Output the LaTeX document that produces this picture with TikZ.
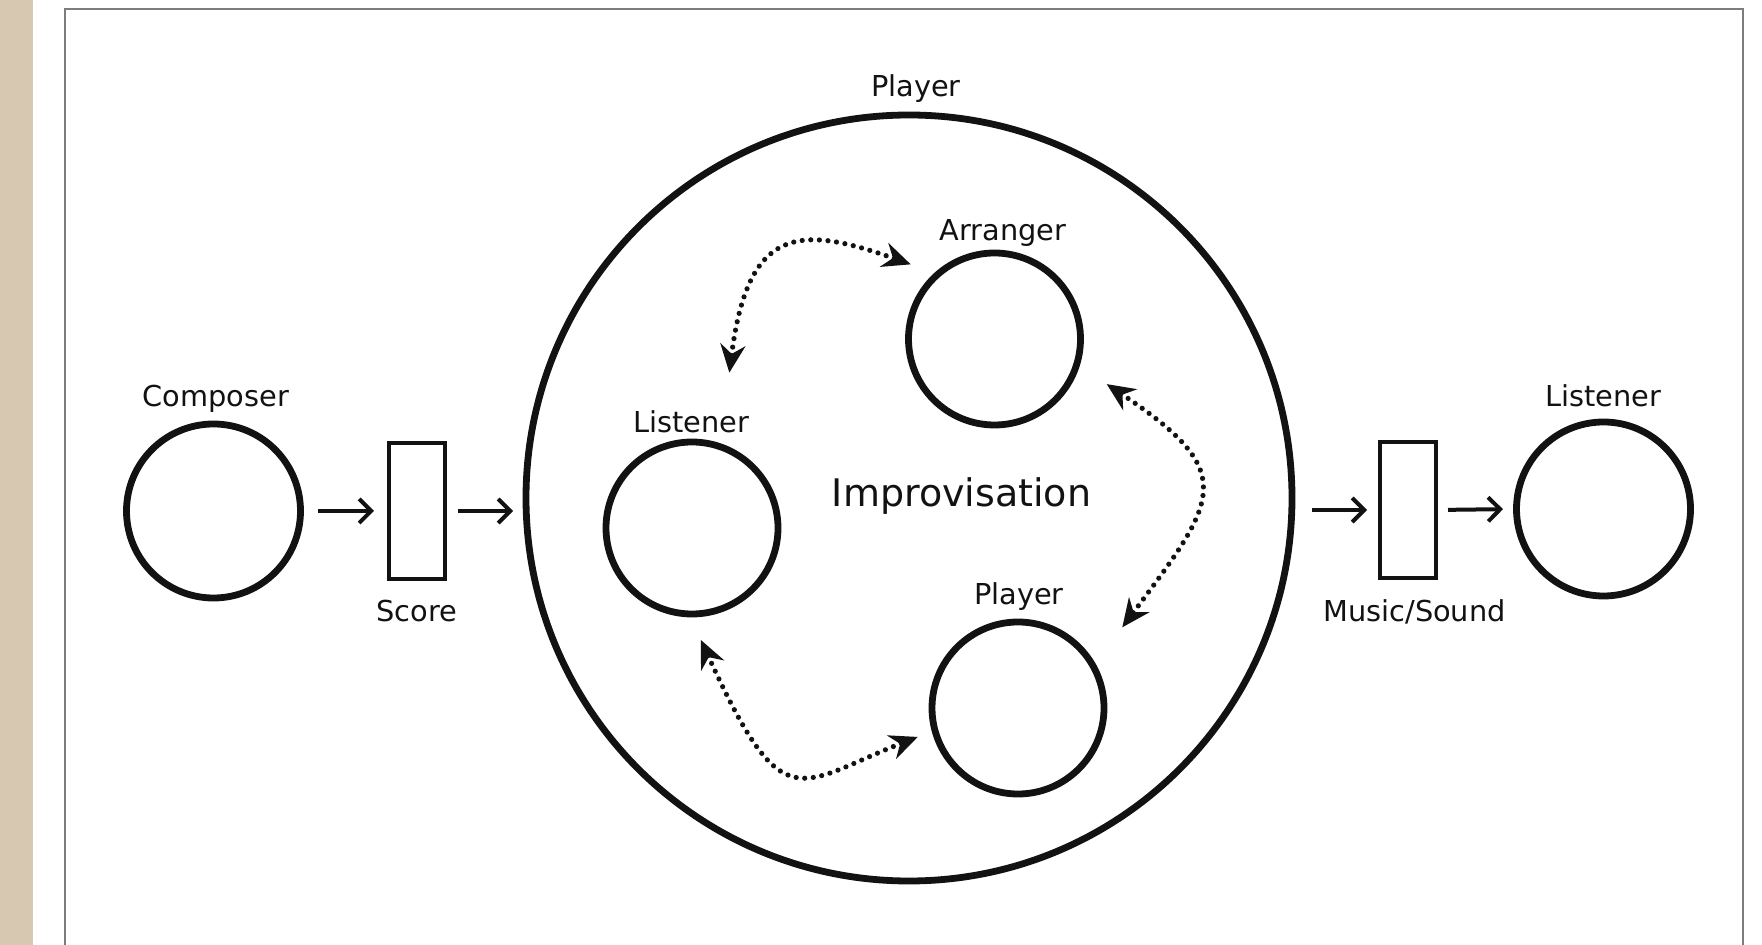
\documentclass[tikz,border=0pt]{standalone}
\usepackage{fontspec}
\setmainfont{DejaVu Sans}
\usetikzlibrary{arrows.meta,calc}
\definecolor{beige}{RGB}{215,201,177}
\definecolor{framegray}{RGB}{125,125,125}
\definecolor{ink}{RGB}{18,18,18}
\begin{document}
\begin{tikzpicture}[x=0.5pt,y=-0.5pt,
  role/.style={circle, draw=ink, line width=3.4pt, minimum size=#1, inner sep=0pt, outer sep=0pt},
  medium/.style={draw=ink, line width=2.2pt, minimum width=28pt, minimum height=68pt, inner sep=0pt, outer sep=0pt},
  lab/.style={text=ink, font=\fontsize{14.4pt}{16pt}\selectfont, inner sep=0pt, anchor=base},
  biglab/.style={text=ink, font=\fontsize{19pt}{22pt}\selectfont, inner sep=0pt, anchor=base},
  flow/.style={draw=ink, line width=2pt, -{Straight Barb[length=6pt,width=12pt]}},
  loop/.style={draw=ink, line width=2.6pt, dash pattern=on 0pt off 4.3pt, line cap=round,
    {Stealth[length=14pt,width=12.5pt]}-{Stealth[length=14pt,width=12.5pt]}}]
\useasboundingbox (0,0) rectangle (1762,945);
\fill[white] (0,0) rectangle (1762,945);
\fill[beige] (0,0) rectangle (33,945);
\draw[framegray, line width=1pt] (65,950) -- (65,9) -- (1743,9) -- (1743,950);

% nodes
\node[role=87pt] (comp) at (213.5,511) {};
\node[lab] (compL) at (216,407) {Composer};
\node[medium] (score) at (417,511) {};
\node[lab] (scoreL) at (417,622) {Score};
\node[role=383pt] (impro) at (909,498) {};
\node[lab] (improL) at (916,97) {Player};
\node[biglab] (imprText) at (961.5,507) {Improvisation};
\node[role=86pt] (arr) at (994.5,339) {};
\node[lab] (arrL) at (1003,241) {Arranger};
\node[role=86pt] (lis) at (692,528) {};
\node[lab] (lisL) at (691,433) {Listener};
\node[role=86pt] (ply) at (1018,708) {};
\node[lab] (plyL) at (1019,605) {Player};
\node[medium] (music) at (1408,510) {};
\node[lab] (musicL) at (1414.5,622) {Music/Sound};
\node[role=87pt] (aud) at (1603.5,509) {};
\node[lab] (audL) at (1603.5,407) {Listener};

% straight connectors
\draw[flow, shorten <=8.75pt, shorten >=7.5pt] (comp.east) -- (score.west);
\draw[flow, shorten <=6.5pt, shorten >=6.5pt] (score.east) -- (score.east -| impro.west);
\draw[flow, shorten <=10pt, shorten >=6.5pt] (impro.east |- music.west) -- (music.west);
\draw[flow, shorten <=6pt, shorten >=6.75pt] (music.east) -- (aud.west);

% dotted two-way connectors
\draw[loop, shorten <=37.3pt, shorten >=14.5pt] (lis.71.5) .. controls (748,225) and (800,225) .. (arr.131.7);
\draw[loop, shorten <=14.3pt, shorten >=9.2pt] (lis.268.9) .. controls (784,822) and (797,784) .. (ply.195.1);
\draw[loop, shorten <=18pt, shorten >=24.3pt] (arr.343.9) .. controls (1240,473) and (1218,499) .. (ply.29.4);
\end{tikzpicture}
\end{document}
